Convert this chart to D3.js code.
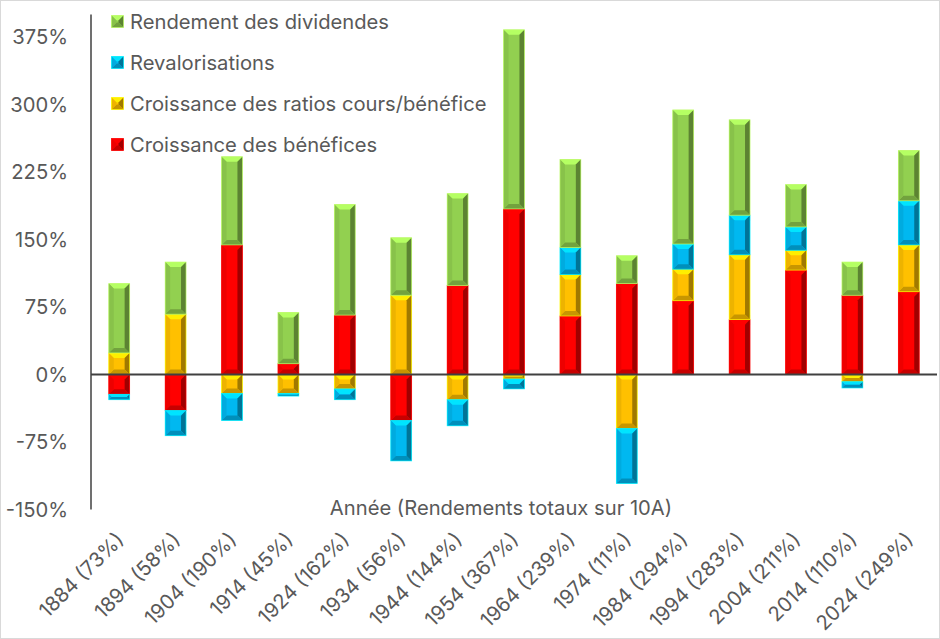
<!DOCTYPE html>
<html>
<head>
<meta charset="utf-8">
<script src="https://cdn.jsdelivr.net/npm/d3@7"></script>
<style>
  html, body { margin: 0; padding: 0; background: #fff; }
  svg { display: block; font-family: "Inter", "Liberation Sans", sans-serif; }
</style>
</head>
<body>
<svg id="svg" width="940" height="639"></svg>
<script>
// catégories (année + rendement total sur 10 ans)
const annees = ["1884 (73%)", "1894 (58%)", "1904 (190%)", "1914 (45%)", "1924 (162%)",
  "1934 (56%)", "1944 (144%)", "1954 (367%)", "1964 (239%)", "1974 (11%)",
  "1984 (294%)", "1994 (283%)", "2004 (211%)", "2014 (110%)", "2024 (249%)"];

// composantes (en %)
const benefices       = [-22, -40, 144, 12, 66, -51, 99, 184, 65, 101, 82, 61, 116, 88, 92];
const ratios          = [24, 67, -21, -21, -16, 88, -28, -5, 46, -60, 35, 72, 22, -8, 52];
const revalorisations = [-6, -28, -30, -3, -12, -45, -29, -11, 30, -61, 28, 44, 26, -7, 49];
const dividendes      = [77, 58, 98, 57, 123, 64, 102, 199, 98, 31, 149, 106, 47, 37, 56];

const yTicks = [-150, -75, 0, 75, 150, 225, 300, 375];

const series = [
  { key: "benefices", label: "Croissance des bénéfices", color: "#ff0000", values: benefices },
  { key: "ratios", label: "Croissance des ratios cours/bénéfice", color: "#ffc000", values: ratios },
  { key: "revalorisations", label: "Revalorisations", color: "#00b8f0", values: revalorisations },
  { key: "dividendes", label: "Rendement des dividendes", color: "#92d050", values: dividendes }
];

const W = 940, H = 639;
const plot = { left: 91, right: 937, top: 14.5, bottom: 509.5 };
const textColor = "#595959";
const fontSize = "20.2px";

const svg = d3.select("#svg");

// cadre du graphique
svg.append("rect")
  .attr("x", 0.5).attr("y", 0.5).attr("width", W - 1).attr("height", H - 1)
  .attr("fill", "#fff").attr("stroke", "#d9d9d9");

const x = d3.scaleBand().domain(annees).range([plot.left, plot.right]).paddingInner(0.63).paddingOuter(0.315);
const y = d3.scaleLinear().domain([-150, 400]).range([plot.bottom, plot.top]);

// table pour d3.stack
const table = annees.map((a, i) => {
  const row = { annee: a };
  series.forEach(s => row[s.key] = s.values[i]);
  return row;
});
const stacked = d3.stack()
  .keys(series.map(s => s.key))
  .offset(d3.stackOffsetDiverging)(table);

// étiquettes axe Y
svg.append("g").selectAll("text").data(yTicks).join("text")
  .attr("x", 68).attr("y", d => y(d))
  .attr("dy", "0.36em")
  .attr("text-anchor", "end")
  .attr("fill", textColor)
  .style("font-size", fontSize)
  .text(d => d + "%");

// barres biseautées
function bevelBar(g, x0, y0, w, h, color) {
  if (h <= 0.3) return;
  const x1 = x0 + w, y1 = y0 + h;
  const b = Math.min(5, h / 2, w / 2);
  const c = d3.color(color);
  const face = (pts, fill) => g.append("polygon")
    .attr("points", pts.map(p => p.join(",")).join(" "))
    .attr("fill", fill);
  g.append("rect").attr("x", x0).attr("y", y0).attr("width", w).attr("height", h).attr("fill", color);
  face([[x0, y0], [x1, y0], [x1 - b, y0 + b], [x0 + b, y0 + b]], c.brighter(0.6).formatHex());
  face([[x1, y0], [x1, y1], [x1 - b, y1 - b], [x1 - b, y0 + b]], c.darker(1.3).formatHex());
  face([[x0, y1], [x1, y1], [x1 - b, y1 - b], [x0 + b, y1 - b]], c.darker(0.7).formatHex());
  face([[x0, y0], [x0 + b, y0 + b], [x0 + b, y1 - b], [x0, y1]], c.darker(0.2).formatHex());
  g.append("rect").attr("x", x0).attr("y", y0).attr("width", w).attr("height", h)
    .attr("fill", "none").attr("stroke", c.brighter(0.8).formatHex()).attr("stroke-width", 0.8)
    .attr("stroke-opacity", 0.8);
}

const barsG = svg.append("g");
stacked.forEach((layer, si) => {
  layer.forEach((d, i) => {
    const top = y(Math.max(d[0], d[1])), bot = y(Math.min(d[0], d[1]));
    bevelBar(barsG, x(annees[i]), top, x.bandwidth(), bot - top, series[si].color);
  });
});

// axes
svg.append("line")
  .attr("x1", plot.left).attr("x2", plot.left)
  .attr("y1", plot.top).attr("y2", plot.bottom)
  .attr("stroke", "#404040").attr("stroke-width", 1.5);
svg.append("line")
  .attr("x1", plot.left).attr("x2", plot.right)
  .attr("y1", y(0)).attr("y2", y(0))
  .attr("stroke", "#404040").attr("stroke-width", 2);

// titre de l'axe X
svg.append("text")
  .attr("x", 501).attr("y", 508).attr("dy", "0.36em")
  .attr("text-anchor", "middle")
  .attr("fill", textColor)
  .style("font-size", fontSize)
  .text("Année (Rendements totaux sur 10A)");

// étiquettes catégories, inclinées
svg.append("g").selectAll("text").data(annees).join("text")
  .attr("transform", d => `translate(${x(d) + x.bandwidth() / 2 + 6},${541}) rotate(-45)`)
  .attr("text-anchor", "end")
  .attr("fill", textColor)
  .style("font-size", fontSize)
  .text(d => d);

// légende (ordre inversé comme Excel)
const legend = svg.append("g");
series.slice().reverse().forEach((s, i) => {
  const cy = 21.5 + i * 41;
  bevelBar(legend, 111.5, cy - 6, 12, 12, s.color);
  legend.append("text")
    .attr("x", 130).attr("y", cy).attr("dy", "0.36em")
    .attr("fill", textColor)
    .style("font-size", fontSize)
    .text(s.label);
});
</script>
</body>
</html>
